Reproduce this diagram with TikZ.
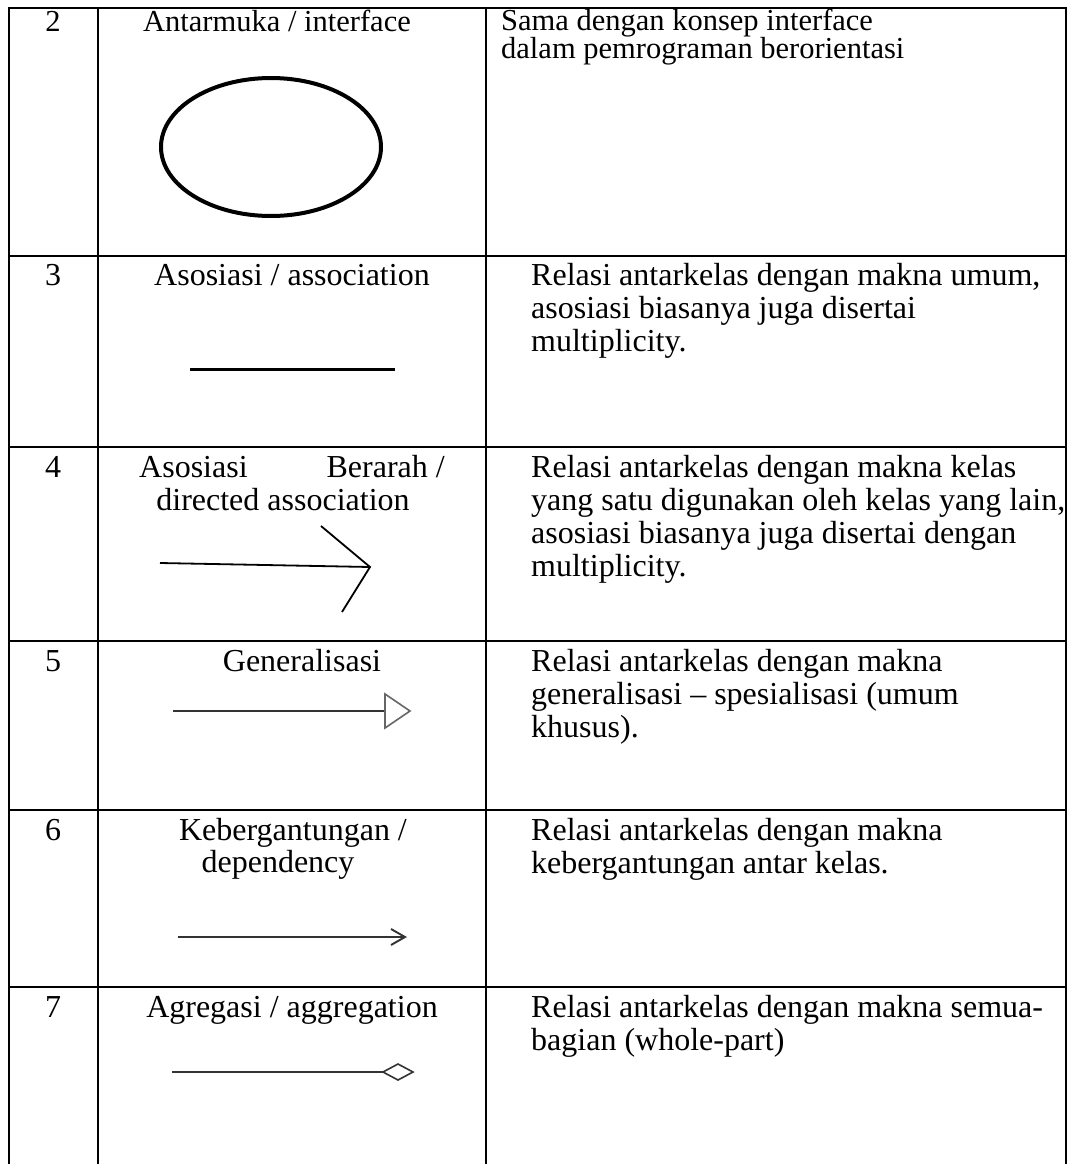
\documentclass[tikz,border=0pt]{standalone}
\usepackage{fontspec}
\setmainfont{Liberation Serif}
\usetikzlibrary{positioning}

\begin{document}
\begin{tikzpicture}[x=1pt,y=-1pt,
	every node/.style={inner sep=0pt,font=\fontsize{32}{36}\selectfont},
	small/.style={font=\fontsize{30.5}{34}\selectfont},
	rule/.style={line width=2.5pt},
	sym/.style={line width=1.6pt,black!80},
	txt/.style={anchor=base west},
	mid/.style={anchor=base}]
	\useasboundingbox (0,0) rectangle (1069,1164);
	% kerangka tabel
	\coordinate (TL) at (9,8);      \coordinate (TR) at (1066,8);
	\coordinate (BL) at (9,1164);   \coordinate (BR) at (1066,1164);
	\coordinate (T1) at (98,8);     \coordinate (B1) at (98,1164);
	\coordinate (T2) at (486,8);    \coordinate (B2) at (486,1164);
	\draw [rule] (BL)--(TL)--(TR)--(BR) (T1)--(B1) (T2)--(B2);
	\foreach \y in {256,447,641,810,987}
		\draw [rule] (9,\y)--(1066,\y);
	% baris 2
	\node (n2) at (53,32) [mid,small] {2};
	\node (h2) at (277,32) [mid,small] {Antarmuka / interface};
	\node (d2a) at (501,31) [txt,small] {Sama dengan konsep interface};
	\node (d2b) at (501,59) [txt,small] {dalam pemrograman berorientasi};
	\coordinate (E) at (271,147);
	\draw [line width=4pt] (E) ellipse [x radius=110, y radius=69];
	% baris 3
	\node (n3) at (53,285) [mid] {3};
	\node (h3) at (292,285) [mid] {Asosiasi / association};
	\node (d3a) at (531,285) [txt] {Relasi antarkelas dengan makna umum,};
	\node (d3b) at (531,318) [txt] {asosiasi biasanya juga disertai};
	\node (d3c) at (531,351) [txt] {multiplicity.};
	\coordinate (A1) at (190,369);  \coordinate (A2) at (395,369);
	\draw [line width=3pt] (A1)--(A2);
	% baris 4
	\node (n4) at (53,477) [mid] {4};
	\node (h4a) at (139,477) [txt] {Asosiasi};
	\node (h4b) at (445,477) [anchor=base east] {Berarah /};
	\node (h4c) at (283,510) [mid] {directed association};
	\node (d4a) at (531,477) [txt] {Relasi antarkelas dengan makna kelas};
	\node (d4b) at (531,510) [txt] {yang satu digunakan oleh kelas yang lain,};
	\node (d4c) at (531,543) [txt] {asosiasi biasanya juga disertai dengan};
	\node (d4d) at (531,576) [txt] {multiplicity.};
	\coordinate (D1) at (160,563);  \coordinate (D2) at (370,567);
	\coordinate (D3) at (321,526);  \coordinate (D4) at (342,612);
	\draw [line width=1.8pt] (D1)--(D2) (D3)--(D2)--(D4);
	% baris 5
	\node (n5) at (53,671) [mid] {5};
	\node (h5) at (302,671) [mid] {Generalisasi};
	\node (d5a) at (531,671) [txt] {Relasi antarkelas dengan makna};
	\node (d5b) at (531,704) [txt] {generalisasi -- spesialisasi (umum};
	\node (d5c) at (531,737) [txt] {khusus).};
	\coordinate (G1) at (173,711);  \coordinate (G2) at (385,711);
	\draw [sym] (G1)--(G2);
	\draw [sym,black!60] (G2)--++(0,-17)--++(25,17)--++(-25,17)--cycle;
	% baris 6
	\node (n6) at (53,840) [mid] {6};
	\node (h6a) at (293,840) [mid] {Kebergantungan /};
	\node (h6b) at (278,872) [mid] {dependency};
	\node (d6a) at (531,840) [txt] {Relasi antarkelas dengan makna};
	\node (d6b) at (531,873) [txt] {kebergantungan antar kelas.};
	\coordinate (K1) at (178,937);  \coordinate (K2) at (405,937);
	\draw [sym,line width=1.9pt] (K1)--(K2) (391,929)--(K2)--(391,945);
	% baris 7
	\node (n7) at (53,1017) [mid] {7};
	\node (h7) at (292,1017) [mid] {Agregasi / aggregation};
	\node (d7a) at (531,1017) [txt] {Relasi antarkelas dengan makna semua-};
	\node (d7b) at (531,1050) [txt] {bagian (whole-part)};
	\coordinate (R1) at (172,1072); \coordinate (R2) at (383,1072);
	\draw [sym] (R1)--(R2) (R2)--++(15,-8)--++(15,8)--++(-15,8)--cycle;
\end{tikzpicture}
\end{document}
